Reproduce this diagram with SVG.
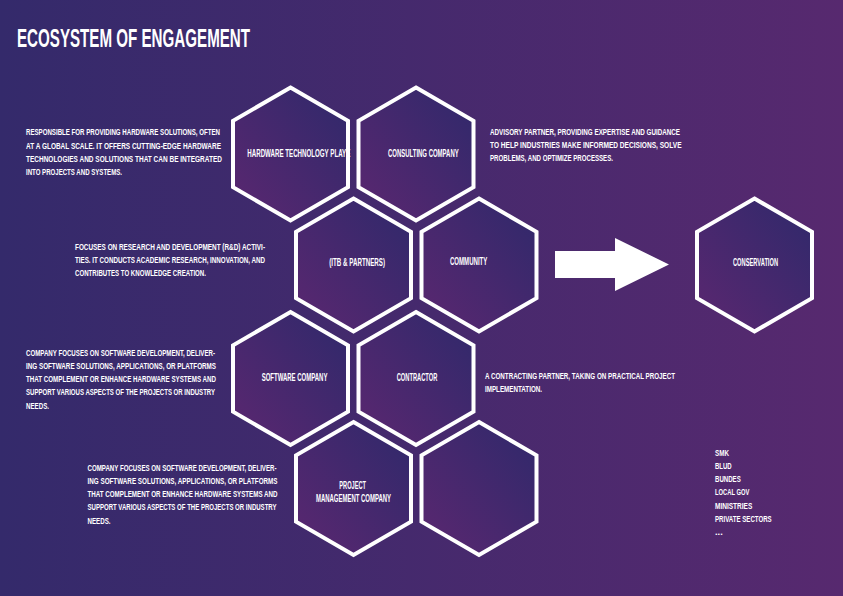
<svg xmlns="http://www.w3.org/2000/svg" width="843" height="596" viewBox="0 0 843 596">
<defs>
<linearGradient id="bg" x1="0" y1="0" x2="1" y2="0">
<stop offset="0" stop-color="#342a6b"/>
<stop offset="1" stop-color="#57296f"/>
</linearGradient>
<linearGradient id="hexfill" x1="0" y1="1" x2="1" y2="0">
<stop offset="0" stop-color="#5b2770"/>
<stop offset="1" stop-color="#2f296b"/>
</linearGradient>
<polygon id="hex" points="0,-66.4 57.5,-33.2 57.5,33.2 0,66.4 -57.5,33.2 -57.5,-33.2"/>
</defs>
<style>
.hx{fill:url(#hexfill);stroke:#fff;stroke-width:4;stroke-linejoin:miter}
.t{font-family:"Liberation Sans",Arial,sans-serif;font-weight:bold;fill:#fff}
.b{font-size:8.5px}
.l{font-size:10px}
.ti{font-size:25px}
</style>
<rect width="843" height="596" fill="url(#bg)"/>
<text class="t ti" transform="translate(17 47) scale(0.7 1)" textLength="332.9" lengthAdjust="spacingAndGlyphs">ECOSYSTEM OF ENGAGEMENT</text>

<g id="connectors">
<polygon points="555,251 615,251 615,238 669,264.5 615,291 615,278 555,278" fill="#fff"/>
</g>

<g id="hardware">
<use href="#hex" class="hx" x="290.5" y="154"/>
<text class="t l" transform="translate(247.3 157) scale(0.62 1)" textLength="166.1" lengthAdjust="spacingAndGlyphs">HARDWARE TECHNOLOGY PLAYE</text>
</g>
<g id="consulting">
<use href="#hex" class="hx" x="416" y="154"/>
<text class="t l" transform="translate(388 157) scale(0.62 1)" textLength="114" lengthAdjust="spacingAndGlyphs">CONSULTING COMPANY</text>
</g>
<g id="itb">
<use href="#hex" class="hx" x="353.5" y="265"/>
<text class="t l" transform="translate(329.3 266) scale(0.62 1)" textLength="89.8" lengthAdjust="spacingAndGlyphs">(ITB &amp; PARTNERS)</text>
</g>
<g id="community">
<use href="#hex" class="hx" x="479" y="265"/>
<text class="t l" transform="translate(450 265) scale(0.62 1)" textLength="60.2" lengthAdjust="spacingAndGlyphs">COMMUNITY</text>
</g>
<g id="software">
<use href="#hex" class="hx" x="290.5" y="378.5"/>
<text class="t l" transform="translate(261.7 381) scale(0.62 1)" textLength="106" lengthAdjust="spacingAndGlyphs">SOFTWARE COMPANY</text>
</g>
<g id="contractor">
<use href="#hex" class="hx" x="416" y="378.5"/>
<text class="t l" transform="translate(396.7 381) scale(0.62 1)" textLength="65.6" lengthAdjust="spacingAndGlyphs">CONTRACTOR</text>
</g>
<g id="project">
<use href="#hex" class="hx" x="353.5" y="488.5"/>
<text class="t l" transform="translate(339.3 488.7) scale(0.62 1)" textLength="43.1" lengthAdjust="spacingAndGlyphs">PROJECT</text>
<text class="t l" transform="translate(316 502) scale(0.62 1)" textLength="121" lengthAdjust="spacingAndGlyphs">MANAGEMENT COMPANY</text>
</g>
<g id="empty">
<use href="#hex" class="hx" x="479" y="488.5"/>
</g>
<g id="conservation">
<use href="#hex" class="hx" x="754.5" y="265"/>
<text class="t l" transform="translate(733 266) scale(0.62 1)" textLength="72.6" lengthAdjust="spacingAndGlyphs">CONSERVATION</text>
</g>

<g id="desc-hardware">
<text class="t b" transform="translate(26 135.3) scale(0.72 1)" textLength="269.4" lengthAdjust="spacingAndGlyphs">RESPONSIBLE FOR PROVIDING HARDWARE SOLUTIONS, OFTEN</text>
<text class="t b" transform="translate(26 148.7) scale(0.72 1)" textLength="270.8" lengthAdjust="spacingAndGlyphs">AT A GLOBAL SCALE. IT OFFERS CUTTING-EDGE HARDWARE</text>
<text class="t b" transform="translate(26 162) scale(0.72 1)" textLength="272.2" lengthAdjust="spacingAndGlyphs">TECHNOLOGIES AND SOLUTIONS THAT CAN BE INTEGRATED</text>
<text class="t b" transform="translate(26 175.3) scale(0.72 1)" textLength="133.3" lengthAdjust="spacingAndGlyphs">INTO PROJECTS AND SYSTEMS.</text>
</g>
<g id="desc-itb">
<text class="t b" transform="translate(75 249.5) scale(0.72 1)" textLength="263.9" lengthAdjust="spacingAndGlyphs">FOCUSES ON RESEARCH AND DEVELOPMENT (R&amp;D) ACTIVI-</text>
<text class="t b" transform="translate(75 262.8) scale(0.72 1)" textLength="263.9" lengthAdjust="spacingAndGlyphs">TIES. IT CONDUCTS ACADEMIC RESEARCH, INNOVATION, AND</text>
<text class="t b" transform="translate(75 276) scale(0.72 1)" textLength="181.9" lengthAdjust="spacingAndGlyphs">CONTRIBUTES TO KNOWLEDGE CREATION.</text>
</g>
<g id="desc-software">
<text class="t b" transform="translate(26 355.5) scale(0.72 1)" textLength="262.5" lengthAdjust="spacingAndGlyphs">COMPANY FOCUSES ON SOFTWARE DEVELOPMENT, DELIVER-</text>
<text class="t b" transform="translate(26 368.8) scale(0.72 1)" textLength="263.9" lengthAdjust="spacingAndGlyphs">ING SOFTWARE SOLUTIONS, APPLICATIONS, OR PLATFORMS</text>
<text class="t b" transform="translate(26 382) scale(0.72 1)" textLength="263.9" lengthAdjust="spacingAndGlyphs">THAT COMPLEMENT OR ENHANCE HARDWARE SYSTEMS AND</text>
<text class="t b" transform="translate(26 395.3) scale(0.72 1)" textLength="262.5" lengthAdjust="spacingAndGlyphs">SUPPORT VARIOUS ASPECTS OF THE PROJECTS OR INDUSTRY</text>
<text class="t b" transform="translate(26 408.7) scale(0.72 1)" textLength="31.9" lengthAdjust="spacingAndGlyphs">NEEDS.</text>
</g>
<g id="desc-project">
<text class="t b" transform="translate(87.5 470.5) scale(0.72 1)" textLength="262.5" lengthAdjust="spacingAndGlyphs">COMPANY FOCUSES ON SOFTWARE DEVELOPMENT, DELIVER-</text>
<text class="t b" transform="translate(87.5 483.8) scale(0.72 1)" textLength="263.9" lengthAdjust="spacingAndGlyphs">ING SOFTWARE SOLUTIONS, APPLICATIONS, OR PLATFORMS</text>
<text class="t b" transform="translate(87.5 497) scale(0.72 1)" textLength="263.9" lengthAdjust="spacingAndGlyphs">THAT COMPLEMENT OR ENHANCE HARDWARE SYSTEMS AND</text>
<text class="t b" transform="translate(87.5 510.3) scale(0.72 1)" textLength="262.5" lengthAdjust="spacingAndGlyphs">SUPPORT VARIOUS ASPECTS OF THE PROJECTS OR INDUSTRY</text>
<text class="t b" transform="translate(87.5 523.7) scale(0.72 1)" textLength="31.9" lengthAdjust="spacingAndGlyphs">NEEDS.</text>
</g>
<g id="desc-consulting">
<text class="t b" transform="translate(490 134.5) scale(0.72 1)" textLength="263.9" lengthAdjust="spacingAndGlyphs">ADVISORY PARTNER, PROVIDING EXPERTISE AND GUIDANCE</text>
<text class="t b" transform="translate(490 147.8) scale(0.72 1)" textLength="266" lengthAdjust="spacingAndGlyphs">TO HELP INDUSTRIES MAKE INFORMED DECISIONS, SOLVE</text>
<text class="t b" transform="translate(490 161) scale(0.72 1)" textLength="170.8" lengthAdjust="spacingAndGlyphs">PROBLEMS, AND OPTIMIZE PROCESSES.</text>
</g>
<g id="desc-contractor">
<text class="t b" transform="translate(485 378.5) scale(0.72 1)" textLength="263.9" lengthAdjust="spacingAndGlyphs">A CONTRACTING PARTNER, TAKING ON PRACTICAL PROJECT</text>
<text class="t b" transform="translate(485 391.8) scale(0.72 1)" textLength="79.2" lengthAdjust="spacingAndGlyphs">IMPLEMENTATION.</text>
</g>
<g id="stakeholders">
<text class="t b" transform="translate(715 455.5) scale(0.72 1)" textLength="19.4" lengthAdjust="spacingAndGlyphs">SMK</text>
<text class="t b" transform="translate(715 468.8) scale(0.72 1)" textLength="23.2" lengthAdjust="spacingAndGlyphs">BLUD</text>
<text class="t b" transform="translate(715 482) scale(0.72 1)" textLength="35.7" lengthAdjust="spacingAndGlyphs">BUNDES</text>
<text class="t b" transform="translate(715 495.3) scale(0.72 1)" textLength="47.6" lengthAdjust="spacingAndGlyphs">LOCAL GOV</text>
<text class="t b" transform="translate(715 508.7) scale(0.72 1)" textLength="51.8" lengthAdjust="spacingAndGlyphs">MINISTRIES</text>
<text class="t b" transform="translate(715 522) scale(0.72 1)" textLength="78.75" lengthAdjust="spacingAndGlyphs">PRIVATE SECTORS</text>
<text class="t b" transform="translate(715 535.3) scale(0.72 1)" textLength="10.7" lengthAdjust="spacingAndGlyphs">...</text>
</g>
</svg>
